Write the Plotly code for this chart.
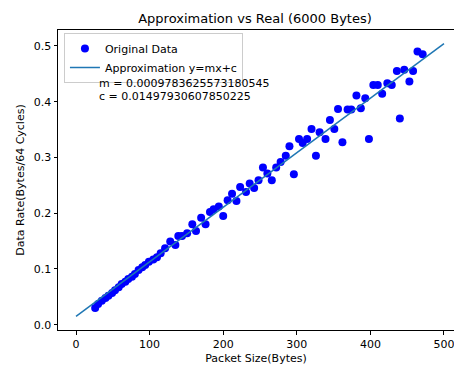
import plotly.graph_objects as go

packet_size = [26, 30, 35, 40, 44, 49, 53, 58, 62, 67, 71, 76, 80, 85, 90, 94, 99, 105, 110, 115,
               121, 128, 135, 139, 144, 151, 158, 163, 170, 176, 182, 187, 194, 200, 206, 212, 218,
               223, 231, 236, 242, 248, 254, 260, 266, 272, 278, 285, 290, 296, 303, 308, 314, 320,
               326, 331, 339, 345, 351, 356, 362, 369, 374, 381, 387, 393, 398, 404, 410, 416, 423,
               429, 436, 440, 446, 453, 458, 464, 471]
data_rate = [0.030, 0.037, 0.043, 0.048, 0.052, 0.057, 0.062, 0.067, 0.073, 0.077, 0.082, 0.086,
             0.091, 0.098, 0.103, 0.107, 0.113, 0.117, 0.121, 0.128, 0.137, 0.149, 0.143, 0.159,
             0.159, 0.164, 0.180, 0.168, 0.192, 0.180, 0.202, 0.207, 0.212, 0.195, 0.223, 0.235,
             0.222, 0.247, 0.238, 0.253, 0.245, 0.259, 0.282, 0.271, 0.259, 0.282, 0.292, 0.303,
             0.320, 0.270, 0.333, 0.326, 0.333, 0.351, 0.303, 0.345, 0.333, 0.367, 0.351, 0.387,
             0.327, 0.386, 0.386, 0.411, 0.388, 0.406, 0.333, 0.430, 0.430, 0.414, 0.433, 0.430,
             0.455, 0.370, 0.457, 0.436, 0.455, 0.490, 0.485]

m = 0.0009783625573180545
c = 0.01497930607850225
fit_x = [0, 500]
fit_y = [m * v + c for v in fit_x]

x_ticks = [0, 100, 200, 300, 400, 500]
y_ticks = [0.0, 0.1, 0.2, 0.3, 0.4, 0.5]

font = "DejaVu Sans"

fig = go.Figure()
fig.add_trace(go.Scatter(x=packet_size, y=data_rate, mode="markers", name="Original Data",
                         marker=dict(color="#0000ff", size=8, line=dict(width=0))))
fig.add_trace(go.Scatter(x=fit_x, y=fit_y, mode="lines", name="Approximation y=mx+c",
                         line=dict(color="#1f77b4", width=1.5)))

axis_common = dict(showline=True, linecolor="black", linewidth=1,
                   ticks="outside", ticklen=3.5, tickwidth=0.8, tickcolor="black",
                   showgrid=False, zeroline=False, ticklabeloverflow="allow",
                   tickfont=dict(family=font, size=11, color="black"))

fig.update_xaxes(range=[-24.5, 513.6], tickvals=x_ticks, mirror=True,
                 title=dict(text="Packet Size(Bytes)", font=dict(family=font, size=11, color="black"), standoff=4),
                 **axis_common)
fig.update_yaxes(range=[-0.0095, 0.5285], tickvals=y_ticks, tickformat=".1f", mirror=False,
                 title=dict(text="Data Rate(Bytes/64 Cycles)", font=dict(family=font, size=11, color="black"), standoff=6),
                 **axis_common)

fig.add_annotation(x=28.6, y=0.432, xref="x", yref="y", text=f"m = {m}", showarrow=False,
                   xanchor="left", yanchor="middle", font=dict(family=font, size=11, color="black"))
fig.add_annotation(x=28.6, y=0.409, xref="x", yref="y", text=f"c = {c}", showarrow=False,
                   xanchor="left", yanchor="middle", font=dict(family=font, size=11, color="black"))

fig.update_layout(
    width=454, height=365,
    margin=dict(l=58, r=0, t=30, b=35),
    paper_bgcolor="white", plot_bgcolor="white",
    title=dict(text="Approximation vs Real (6000 Bytes)", x=(255 / 454), xanchor="center",
               y=1 - 18 / 365, yanchor="middle", font=dict(family=font, size=13, color="black")),
    legend=dict(x=0.015, y=0.99, xanchor="left", yanchor="top",
                bgcolor="rgba(255,255,255,0.8)", bordercolor="#cccccc", borderwidth=1,
                font=dict(family=font, size=11, color="black"), tracegroupgap=0,
                itemwidth=30),
    showlegend=True,
)

fig.write_html("out.html")
